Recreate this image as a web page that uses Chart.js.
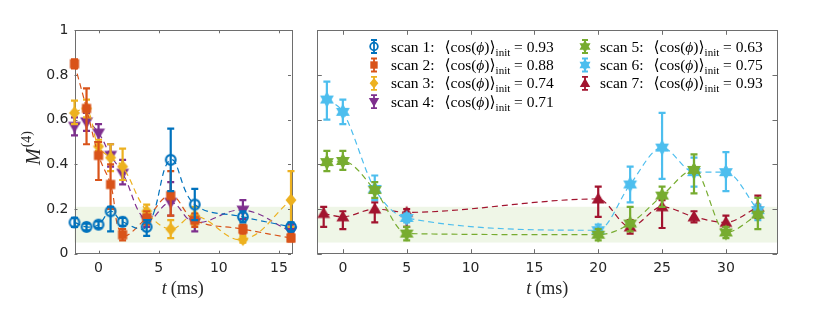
<!DOCTYPE html>
<html>
<head>
<meta charset="utf-8">
<script src="https://cdn.jsdelivr.net/npm/chart.js@4.4.1/dist/chart.umd.min.js"></script>
<style>
  body { margin: 0; background: #fff; width: 830px; height: 322px; overflow: hidden; position: relative; }
  #left { position: absolute; left: 0; top: 0; }
  #right { position: absolute; left: 300px; top: 0; }
</style>
</head>
<body>
<canvas id="left" width="300" height="322"></canvas>
<canvas id="right" width="530" height="322"></canvas>
<script>
// === data ===
const tLeft = [-2, -1, 0, 1, 2, 4, 6, 8, 12, 16];
const tScan56 = [-1.25, 0, 2.5, 5, 20, 22.5, 25, 27.5, 30, 32.5];
const tScan7 = [-1.5, 0, 2.5, 5, 20, 22.5, 25, 27.5, 30, 32.5];

const scan1 = [0.14, 0.12, 0.13, 0.19, 0.143, 0.12, 0.42, 0.22, 0.165, 0.12];
const scan1Lo = [0.12, 0.105, 0.115, 0.10, 0.125, 0.08, 0.28, 0.15, 0.14, 0.10];
const scan1Hi = [0.16, 0.135, 0.145, 0.21, 0.16, 0.15, 0.56, 0.29, 0.19, 0.14];

const scan2 = [0.85, 0.65, 0.44, 0.31, 0.085, 0.16, 0.26, 0.15, 0.11, 0.07];
const scan2Lo = [0.83, 0.49, 0.33, 0.20, 0.06, 0.13, 0.17, 0.12, 0.09, 0.055];
const scan2Hi = [0.87, 0.74, 0.50, 0.40, 0.11, 0.19, 0.37, 0.18, 0.13, 0.09];

const scan3 = [0.63, 0.65, 0.48, 0.43, 0.39, 0.19, 0.11, 0.17, 0.064, 0.24];
const scan3Lo = [0.58, 0.61, 0.46, 0.37, 0.33, 0.16, 0.07, 0.13, 0.05, 0.12];
const scan3Hi = [0.685, 0.69, 0.51, 0.49, 0.47, 0.22, 0.15, 0.21, 0.08, 0.37];

const scan4 = [0.57, 0.59, 0.54, 0.44, 0.36, 0.15, 0.23, 0.14, 0.195, 0.10];
const scan4Lo = [0.53, 0.55, 0.50, 0.39, 0.31, 0.12, 0.17, 0.10, 0.155, 0.08];
const scan4Hi = [0.61, 0.63, 0.58, 0.49, 0.42, 0.19, 0.32, 0.17, 0.24, 0.13];

const scan5 = [0.41, 0.415, 0.285, 0.09, 0.085, 0.135, 0.26, 0.375, 0.095, 0.175];
const scan5Lo = [0.37, 0.375, 0.25, 0.06, 0.06, 0.10, 0.21, 0.27, 0.07, 0.11];
const scan5Hi = [0.46, 0.46, 0.32, 0.12, 0.11, 0.21, 0.30, 0.445, 0.12, 0.25];

const scan6 = [0.69, 0.635, 0.29, 0.16, 0.105, 0.31, 0.475, 0.365, 0.365, 0.195];
const scan6Lo = [0.60, 0.58, 0.24, 0.14, 0.08, 0.23, 0.335, 0.30, 0.28, 0.15];
const scan6Hi = [0.77, 0.69, 0.35, 0.18, 0.13, 0.39, 0.63, 0.43, 0.455, 0.22];

const scan7 = [0.18, 0.165, 0.20, 0.185, 0.245, 0.12, 0.21, 0.165, 0.14, 0.21];
const scan7Lo = [0.12, 0.11, 0.14, 0.12, 0.165, 0.09, 0.115, 0.14, 0.12, 0.16];
const scan7Hi = [0.21, 0.19, 0.23, 0.20, 0.30, 0.15, 0.24, 0.19, 0.17, 0.26];

const cosInit = ['0.93', '0.88', '0.74', '0.71', '0.63', '0.75', '0.93'];
const bandLo = 0.05, bandHi = 0.21;

const yTicks = [0, 0.2, 0.4, 0.6, 0.8, 1];
const yTickLabels = ['0', '0.2', '0.4', '0.6', '0.8', '1'];
const xTicksLeft = [0, 5, 10, 15];
const xTicksRight = [0, 5, 10, 15, 20, 25, 30];

// === styles ===
const colors = ['#0072BD', '#D95319', '#EDB120', '#7E2F8E', '#77AC30', '#4DBEEE', '#A2142F'];
const shapes = ['circle', 'square', 'diamond', 'triDown', 'hexagram', 'hexagram', 'triUp'];
const SANS = '"DejaVu Sans", sans-serif';
const SERIF = '"Liberation Serif", "DejaVu Serif", serif';
const axisColor = '#262626';

function drawShape(ctx, shape, color, x, y) {
  ctx.save();
  ctx.fillStyle = color;
  ctx.strokeStyle = color;
  ctx.beginPath();
  if (shape === 'circle') {
    ctx.lineWidth = 2.2;
    ctx.arc(x, y, 4.8, 0, Math.PI * 2);
    ctx.stroke();
  } else if (shape === 'square') {
    ctx.rect(x - 4.6, y - 4.6, 9.2, 9.2);
    ctx.fill();
  } else if (shape === 'diamond') {
    ctx.moveTo(x, y - 6.5); ctx.lineTo(x + 5.5, y); ctx.lineTo(x, y + 6.5); ctx.lineTo(x - 5.5, y);
    ctx.closePath(); ctx.fill();
  } else if (shape === 'triDown') {
    ctx.moveTo(x - 6.5, y - 4.5); ctx.lineTo(x + 6.5, y - 4.5); ctx.lineTo(x, y + 6.5);
    ctx.closePath(); ctx.fill();
  } else if (shape === 'triUp') {
    ctx.moveTo(x - 6.5, y + 4.5); ctx.lineTo(x + 6.5, y + 4.5); ctx.lineTo(x, y - 6.5);
    ctx.closePath(); ctx.fill();
  } else if (shape === 'hexagram') {
    const ro = 8, ri = 4.6;
    for (let k = 0; k < 12; k++) {
      const r = k % 2 ? ri : ro;
      const a = -Math.PI / 2 + k * Math.PI / 6;
      const px = x + r * Math.cos(a), py = y + r * Math.sin(a);
      if (k === 0) ctx.moveTo(px, py); else ctx.lineTo(px, py);
    }
    ctx.closePath(); ctx.fill();
  }
  ctx.restore();
}

function markerImage(i) {
  const c = document.createElement('canvas');
  c.width = 22; c.height = 22;
  drawShape(c.getContext('2d'), shapes[i], colors[i], 11, 11);
  return c;
}

function makeSet(i, xs, ys, lo, hi) {
  return {
    data: xs.map((x, k) => ({ x: x, y: ys[k] })),
    errLo: lo, errHi: hi,
    borderColor: colors[i],
    borderWidth: 1.2,
    borderDash: [6, 4],
    tension: 0.4,
    fill: false,
    pointStyle: markerImage(i),
    pointRadius: 5,
    clip: false
  };
}

// band + box + inward ticks + error bars
const axesPlugin = {
  id: 'axesPlugin',
  beforeDatasetsDraw(chart, args, opts) {
    const { ctx, chartArea: a, scales } = chart;
    ctx.save();
    ctx.fillStyle = '#EFF6E7';
    const yb1 = scales.y.getPixelForValue(bandHi), yb0 = scales.y.getPixelForValue(bandLo);
    ctx.fillRect(a.left, yb1, a.right - a.left, yb0 - yb1);
    ctx.strokeStyle = '#6e6e6e';
    ctx.lineWidth = 1;
    ctx.strokeRect(Math.round(a.left) + 0.5, Math.round(a.top) + 0.5,
      Math.round(a.right - a.left), Math.round(a.bottom - a.top));
    const tl = opts.tick;
    ctx.beginPath();
    opts.xt.forEach(v => {
      const px = Math.round(scales.x.getPixelForValue(v)) + 0.5;
      ctx.moveTo(px, a.bottom); ctx.lineTo(px, a.bottom - tl);
      ctx.moveTo(px, a.top); ctx.lineTo(px, a.top + tl);
    });
    yTicks.forEach(v => {
      const py = Math.round(scales.y.getPixelForValue(v)) + 0.5;
      ctx.moveTo(a.left, py); ctx.lineTo(a.left + tl, py);
      ctx.moveTo(a.right, py); ctx.lineTo(a.right - tl, py);
    });
    ctx.stroke();
    ctx.restore();
  },
  beforeDatasetDraw(chart, args) {
    const ds = chart.data.datasets[args.index];
    if (!ds.errLo) return;
    const { ctx, scales } = chart;
    ctx.save();
    ctx.strokeStyle = ds.borderColor;
    ctx.lineWidth = 2.2;
    ctx.beginPath();
    ds.data.forEach((p, k) => {
      const px = scales.x.getPixelForValue(p.x);
      const y0 = scales.y.getPixelForValue(ds.errLo[k]);
      const y1 = scales.y.getPixelForValue(ds.errHi[k]);
      ctx.moveTo(px, y0); ctx.lineTo(px, y1);
      ctx.moveTo(px - 3.5, y0); ctx.lineTo(px + 3.5, y0);
      ctx.moveTo(px - 3.5, y1); ctx.lineTo(px + 3.5, y1);
    });
    ctx.stroke();
    ctx.restore();
  }
};

function drawXTitle(chart) {
  const { ctx, chartArea: a } = chart;
  ctx.save();
  ctx.fillStyle = axisColor;
  ctx.textBaseline = 'alphabetic';
  const fi = 'italic 18px ' + SERIF, fr = '18px ' + SERIF;
  ctx.font = fi; const w1 = ctx.measureText('t').width;
  ctx.font = fr; const w2 = ctx.measureText('(ms)').width;
  const gap = 4;
  let x = (a.left + a.right) / 2 - (w1 + gap + w2) / 2;
  const y = 294;
  ctx.font = fi; ctx.fillText('t', x, y);
  ctx.font = fr; ctx.fillText('(ms)', x + w1 + gap, y);
  ctx.restore();
}

const leftTitles = {
  id: 'leftTitles',
  afterDraw(chart) {
    drawXTitle(chart);
    const ctx = chart.ctx;
    ctx.save();
    ctx.fillStyle = axisColor;
    ctx.translate(40, 165);
    ctx.rotate(-Math.PI / 2);
    ctx.font = 'italic 20px ' + SERIF;
    ctx.fillText('M', 0, 0);
    const wm = ctx.measureText('M').width;
    ctx.font = '14px ' + SERIF;
    ctx.fillText('(4)', wm + 1, -9);
    ctx.restore();
  }
};

function legendText(ctx, x, y, n, val) {
  const fr = '15.5px ' + SERIF, fi = 'italic 15.5px ' + SERIF, fs = '11px ' + SERIF;
  let cx = x;
  const put = (s, f, dy) => { ctx.font = f; ctx.fillText(s, cx, y + (dy || 0)); cx += ctx.measureText(s).width; };
  put('scan ' + n + ':', fr);
  cx += 10;
  put('\u27E8cos(', fr);
  put('\u03D5', fi);
  put(')\u27E9', fr);
  put('init', fs, 4);
  put(' = ' + val, fr);
}

const rightTitles = {
  id: 'rightTitles',
  afterDraw(chart) {
    drawXTitle(chart);
    const ctx = chart.ctx;
    ctx.save();
    ctx.fillStyle = '#000';
    ctx.textBaseline = 'alphabetic';
    const rows = [46.5, 65, 83.3, 101.7];
    for (let i = 0; i < 7; i++) {
      const col = i < 4 ? 0 : 1;
      const row = i < 4 ? i : i - 4;
      const mx = col ? 285 : 74, tx = col ? 300 : 91;
      const my = rows[row];
      ctx.strokeStyle = colors[i];
      ctx.lineWidth = 1.8;
      ctx.beginPath();
      ctx.moveTo(mx, my - 6.5); ctx.lineTo(mx, my + 6.5);
      ctx.moveTo(mx - 3, my - 6.5); ctx.lineTo(mx + 3, my - 6.5);
      ctx.moveTo(mx - 3, my + 6.5); ctx.lineTo(mx + 3, my + 6.5);
      ctx.stroke();
      ctx.save();
      ctx.translate(mx, my);
      ctx.scale(0.8, 0.8);
      drawShape(ctx, shapes[i], colors[i], 0, 0);
      ctx.restore();
      ctx.fillStyle = '#000';
      legendText(ctx, tx, my + 5, i + 1, cosInit[i]);
    }
    ctx.restore();
  }
};

function scaleOpts(min, max, xt, yWidth, showY) {
  return {
    x: {
      type: 'linear', min: min, max: max,
      afterBuildTicks: s => { s.ticks = xt.map(v => ({ value: v })); },
      afterFit: s => { s.height = 322 - 253.7; },
      grid: { display: false, drawTicks: false },
      border: { display: false },
      ticks: { font: { family: SANS, size: 14 }, color: axisColor, padding: 6, maxRotation: 0, autoSkip: false }
    },
    y: {
      type: 'linear', min: 0, max: 1,
      afterBuildTicks: s => { s.ticks = yTicks.map(v => ({ value: v })); },
      afterFit: s => { s.width = yWidth; },
      grid: { display: false, drawTicks: false },
      border: { display: false },
      ticks: {
        display: showY,
        font: { family: SANS, size: 14 }, color: axisColor, padding: 6,
        callback: (v, i) => yTickLabels[i]
      }
    }
  };
}

const common = {
  responsive: false,
  animation: false,
  events: [],
  plugins: { legend: { display: false }, tooltip: { enabled: false }, axesPlugin: {} }
};

new Chart(document.getElementById('left'), {
  type: 'line',
  data: {
    datasets: [
      makeSet(0, tLeft, scan1, scan1Lo, scan1Hi),
      makeSet(1, tLeft, scan2, scan2Lo, scan2Hi),
      makeSet(2, tLeft, scan3, scan3Lo, scan3Hi),
      makeSet(3, tLeft, scan4, scan4Lo, scan4Hi)
    ]
  },
  options: Object.assign({}, common, {
    layout: { padding: { left: 0, top: 30.3, right: 9, bottom: 0 } },
    scales: scaleOpts(-2, 16, xTicksLeft, 74.5, true),
    plugins: Object.assign({}, common.plugins, { axesPlugin: { tick: 3, xt: xTicksLeft } })
  }),
  plugins: [axesPlugin, leftTitles]
});

// right panel: long gaps between 5 and 20 ms, monotone curves keep them flat
const rightSets = [
  makeSet(4, tScan56, scan5, scan5Lo, scan5Hi),
  makeSet(5, tScan56, scan6, scan6Lo, scan6Hi),
  makeSet(6, tScan7, scan7, scan7Lo, scan7Hi)
];
rightSets.forEach(ds => { ds.cubicInterpolationMode = 'monotone'; });

new Chart(document.getElementById('right'), {
  type: 'line',
  data: { datasets: rightSets },
  options: Object.assign({}, common, {
    layout: { padding: { left: 0, top: 30.3, right: 53, bottom: 0 } },
    scales: scaleOpts(-2, 34, xTicksRight, 17.3, false),
    plugins: Object.assign({}, common.plugins, { axesPlugin: { tick: 4.5, xt: xTicksRight } })
  }),
  plugins: [axesPlugin, rightTitles]
});
</script>
</body>
</html>
